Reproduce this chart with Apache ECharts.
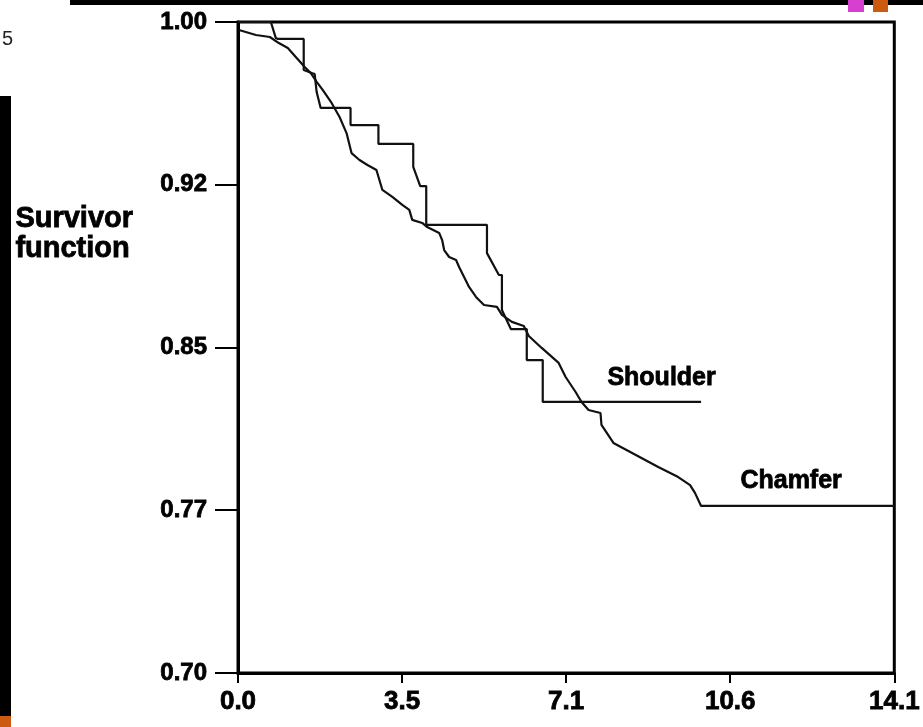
<!DOCTYPE html>
<html>
<head>
<meta charset="utf-8">
<script src="https://cdn.jsdelivr.net/npm/echarts@6/dist/echarts.min.js"></script>
<style>
html,body{margin:0;padding:0;background:#fff;}
#chart{width:923px;height:727px;}
</style>
</head>
<body>
<div id="chart"></div>
<script>
// ---- data (time in years, survivor function) ----
var shoulderTime = [0, 0.706, 0.813, 0.856, 1.412, 1.412, 1.583, 1.647, 1.690, 1.776, 2.418, 2.418, 3.017, 3.017, 3.765, 3.765, 3.915, 4.044, 4.044, 5.349, 5.349, 5.605, 5.670, 5.670, 5.862, 6.204, 6.204, 6.547, 6.547, 9.949];
var shoulderSurv = [1.0, 1.0, 0.9926, 0.9922, 0.9922, 0.9779, 0.9765, 0.9760, 0.9677, 0.9604, 0.9604, 0.9525, 0.9525, 0.9438, 0.9438, 0.9332, 0.9244, 0.9244, 0.9065, 0.9065, 0.8935, 0.8834, 0.8834, 0.8673, 0.8585, 0.8585, 0.8442, 0.8442, 0.8249, 0.8249];

var chamferTime = [0.021, 0.385, 0.685, 0.877, 1.070, 1.241, 1.433, 1.562, 1.690, 1.819, 2.011, 2.182, 2.332, 2.439, 2.610, 2.781, 2.974, 3.102, 3.316, 3.530, 3.680, 3.744, 3.958, 4.065, 4.322, 4.386, 4.429, 4.536, 4.685, 4.750, 4.964, 5.113, 5.285, 5.563, 5.670, 5.884, 6.140, 6.247, 6.525, 6.889, 7.039, 7.253, 7.381, 7.531, 7.788, 7.809, 8.066, 9.029, 9.457, 9.713, 9.820, 9.949, 14.1];
var chamferSurv = [0.9963, 0.9940, 0.9931, 0.9903, 0.9880, 0.9839, 0.9793, 0.9765, 0.9724, 0.9687, 0.9627, 0.9562, 0.9488, 0.9396, 0.9364, 0.9341, 0.9318, 0.9226, 0.9194, 0.9157, 0.9134, 0.9088, 0.9074, 0.9055, 0.9028, 0.8995, 0.8949, 0.8917, 0.8903, 0.8871, 0.8779, 0.8733, 0.8696, 0.8687, 0.8650, 0.8618, 0.8599, 0.8553, 0.8498, 0.8429, 0.8364, 0.8295, 0.8249, 0.8212, 0.8198, 0.8143, 0.8060, 0.7949, 0.7903, 0.7866, 0.7829, 0.7770, 0.7770];

var xTickValues = [0, 3.525, 7.05, 10.575, 14.1];
var xTickLabels = ['0.0', '3.5', '7.1', '10.6', '14.1'];
var yTickValues = [0.70, 0.775, 0.85, 0.925, 1.00];
var yTickLabels = ['0.70', '0.77', '0.85', '0.92', '1.00'];

var seriesNames = ['Shoulder', 'Chamfer'];
var yAxisTitle = 'Survivor\nfunction';

// ---- build ----
function zip(a, b) { return a.map(function (v, i) { return [v, b[i]]; }); }
function labelFor(vals, labels) {
  return function (v) {
    var best = 0, d = Infinity;
    for (var i = 0; i < vals.length; i++) {
      var dd = Math.abs(vals[i] - v);
      if (dd < d) { d = dd; best = i; }
    }
    return labels[best];
  };
}
var FONT = "'Liberation Sans', Arial, Helvetica, sans-serif";

var chart = echarts.init(document.getElementById('chart'), null, {renderer: 'canvas'});
chart.setOption({
  animation: false,
  backgroundColor: '#ffffff',
  grid: {left: 238, right: 26, top: 22, bottom: 54, show: true, borderColor: '#000', borderWidth: 3, backgroundColor: 'transparent'},
  xAxis: {
    type: 'value', min: 0, max: 14.1,
    axisLine: {show: true, lineStyle: {color: '#000', width: 3}},
    axisTick: {show: true, length: 10, inside: false, lineStyle: {color: '#000', width: 2}, customValues: xTickValues},
    axisLabel: {show: true, customValues: xTickValues, formatter: labelFor(xTickValues, xTickLabels),
      fontFamily: FONT, fontWeight: 'bold', fontSize: 26, color: '#000', margin: 16,
      textBorderColor: '#000', textBorderWidth: 0.8},
    splitLine: {show: false}
  },
  yAxis: {
    type: 'value', min: 0.70, max: 1.00,
    axisLine: {show: true, lineStyle: {color: '#000', width: 3}},
    axisTick: {show: true, length: 23, inside: false, lineStyle: {color: '#000', width: 2}, customValues: yTickValues},
    axisLabel: {show: true, customValues: yTickValues, formatter: labelFor(yTickValues, yTickLabels),
      fontFamily: FONT, fontWeight: 'bold', fontSize: 24, color: '#000', margin: 31,
      textBorderColor: '#000', textBorderWidth: 0.8},
    splitLine: {show: false}
  },
  series: [
    {name: seriesNames[0], type: 'line', data: zip(shoulderTime, shoulderSurv), showSymbol: false, symbol: 'none',
      lineStyle: {color: '#111', width: 2.2}, z: 3},
    {name: seriesNames[1], type: 'line', data: zip(chamferTime, chamferSurv), showSymbol: false, symbol: 'none',
      lineStyle: {color: '#111', width: 2.2}, z: 3}
  ],
  graphic: [
    {type: 'rect', left: 70, top: 0, shape: {width: 853, height: 5}, style: {fill: '#000'}, silent: true},
    {type: 'rect', left: 848, top: 0, shape: {width: 16, height: 12}, style: {fill: '#d63fd0'}, silent: true},
    {type: 'rect', left: 873, top: 0, shape: {width: 15, height: 12}, style: {fill: '#cc5a10'}, silent: true},
    {type: 'rect', left: 0, top: 96, shape: {width: 11, height: 626}, style: {fill: '#000'}, silent: true},
    {type: 'rect', left: 0, top: 716, shape: {width: 11, height: 11}, style: {fill: '#cc5a10'}, silent: true},
    {type: 'text', left: 2, top: 29, style: {text: '5', font: "normal 20px 'Liberation Sans', Arial, sans-serif", fill: '#222'}, silent: true},
    {type: 'text', left: 15, top: 204, style: {text: yAxisTitle, fontSize: 29, fontWeight: 'bold', fontFamily: FONT, fill: '#000', lineHeight: 30, stroke: '#000', lineWidth: 0.8}, silent: true},
    {type: 'text', left: 607, top: 365, style: {text: seriesNames[0], fontSize: 25, fontWeight: 'bold', fontFamily: FONT, fill: '#000', stroke: '#000', lineWidth: 0.8}, silent: true},
    {type: 'text', left: 740, top: 468, style: {text: seriesNames[1], fontSize: 25, fontWeight: 'bold', fontFamily: FONT, fill: '#000', stroke: '#000', lineWidth: 0.8}, silent: true}
  ]
});
</script>
</body>
</html>
